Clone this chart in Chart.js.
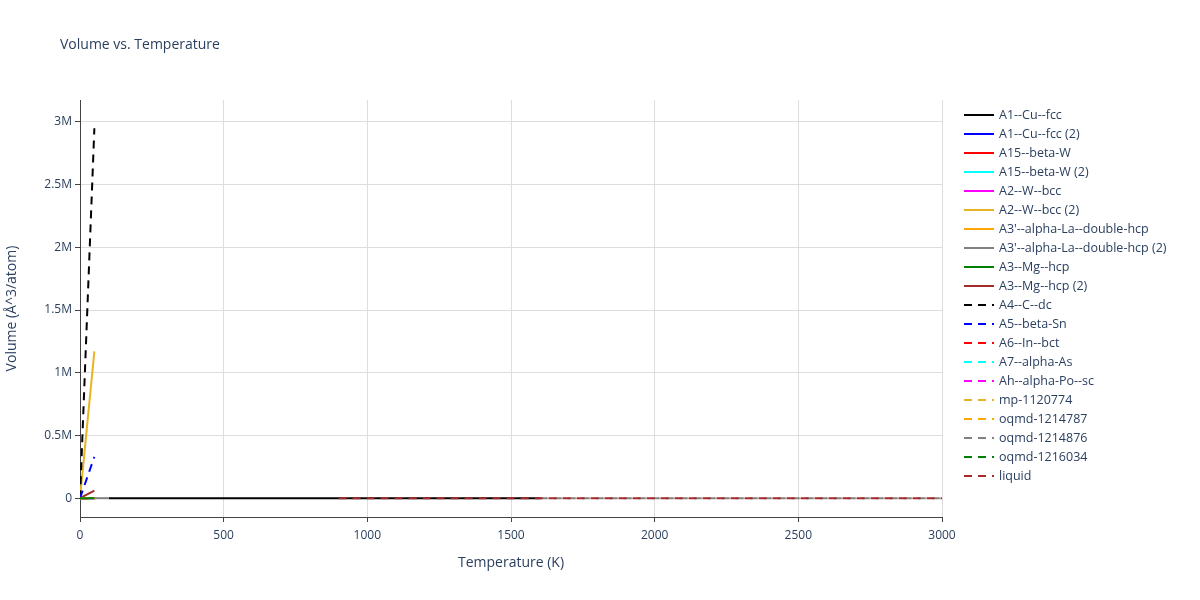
<!DOCTYPE html>
<html lang="en">
<head>
<meta charset="UTF-8" />
<title>Volume vs. Temperature</title>
<script src="https://cdn.jsdelivr.net/npm/chart.js"></script>
<style>
  body { margin: 0; background: #fff; font-family: 'Open Sans', sans-serif; }
  #wrap { width: 1200px; height: 600px; position: relative; }
</style>
</head>
<body>
<div id="wrap"><canvas id="c"></canvas></div>
<script>
const seriesNames = ['A1--Cu--fcc', 'A1--Cu--fcc (2)', 'A15--beta-W', 'A15--beta-W (2)', 'A2--W--bcc', 'A2--W--bcc (2)',
  "A3'--alpha-La--double-hcp", "A3'--alpha-La--double-hcp (2)", 'A3--Mg--hcp', 'A3--Mg--hcp (2)',
  'A4--C--dc', 'A5--beta-Sn', 'A6--In--bct', 'A7--alpha-As', 'Ah--alpha-Po--sc',
  'mp-1120774', 'oqmd-1214787', 'oqmd-1214876', 'oqmd-1216034', 'liquid'];
const seriesColors = ['#000000', '#0000ff', '#ff0000', '#00ffff', '#ff00ff', '#e6b422',
  '#ffa500', '#808080', '#008000', '#a52a2a',
  '#000000', '#0000ff', '#ff0000', '#00ffff', '#ff00ff', '#e6b422', '#ffa500', '#808080', '#008000', '#a52a2a'];
const seriesDashed = [false, false, false, false, false, false, false, false, false, false,
  true, true, true, true, true, true, true, true, true, true];
// [temperature K, volume Å^3/atom] pairs
const seriesPoints = [
  [[100, 0], [1600, 0]],
  [[0, 0], [50, 0]],
  [[0, 0], [50, 0]],
  [[0, 0], [50, 0]],
  [[0, 0], [50, 0]],
  [[0, 0], [50, 1170000]],
  [[0, 0], [50, 0]],
  [[0, 0], [100, 0]],
  [[0, 0], [50, 0]],
  [[0, 0], [50, 60000]],
  [[0, 0], [50, 2950000]],
  [[0, 0], [50, 330000]],
  [[0, 0], [50, 0]],
  [[0, 0], [50, 0]],
  [[0, 0], [50, 0]],
  [[0, 0], [50, 0]],
  [[0, 0], [50, 0]],
  [[1600, 0], [3000, 0]],
  [[0, 0], [50, 0]],
  [[900, 0], [3000, 0]]
];
const xTicks = [0, 500, 1000, 1500, 2000, 2500, 3000];
const yTicks = [0, 500000, 1000000, 1500000, 2000000, 2500000, 3000000];
const yTickLabels = ['0', '0.5M', '1M', '1.5M', '2M', '2.5M', '3M'];

const datasets = seriesNames.map((name, i) => ({
  label: name,
  data: seriesPoints[i].map(p => ({ x: p[0], y: p[1] })),
  borderColor: seriesColors[i],
  backgroundColor: seriesColors[i],
  borderWidth: 2,
  borderDash: seriesDashed[i] ? [8, 6] : [],
  pointRadius: 0,
  showLine: true,
  order: seriesNames.length - i
}));

const legendPlugin = {
  id: 'sideLegend',
  afterDraw(chart) {
    const ctx = chart.ctx;
    ctx.save();
    ctx.font = '12.5px "Open Sans", sans-serif';
    ctx.textBaseline = 'middle';
    seriesNames.forEach((name, i) => {
      const y = 115 + i * 19;
      ctx.strokeStyle = seriesColors[i];
      ctx.lineWidth = 2;
      ctx.setLineDash(seriesDashed[i] ? [8, 6] : []);
      ctx.beginPath(); ctx.moveTo(964, y); ctx.lineTo(994, y); ctx.stroke();
      ctx.setLineDash([]);
      ctx.fillStyle = '#2a3f5f';
      ctx.fillText(name, 999, y);
    });
    ctx.fillStyle = '#2a3f5f';
    ctx.font = '14px "Open Sans", sans-serif';
    ctx.fillText('Volume vs. Temperature', 60, 45);
    ctx.restore();
  }
};

new Chart(document.getElementById('c'), {
  type: 'scatter',
  data: { datasets },
  options: {
    responsive: true,
    maintainAspectRatio: false,
    animation: false,
    layout: { padding: { top: 100, right: 258, left: 0, bottom: 25 } },
    plugins: { legend: { display: false }, tooltip: { enabled: false } },
    scales: {
      x: {
        type: 'linear', min: 0, max: 3000,
        afterBuildTicks: ax => { ax.ticks = xTicks.map(v => ({ value: v })); },
        afterFit: ax => { ax.height = 58; },
        grid: { color: '#dddddd', drawTicks: true, tickLength: 5, tickColor: '#444' },
        border: { color: '#444' },
        ticks: { color: '#2a3f5f', font: { size: 12, family: 'Open Sans' }, maxRotation: 0,
          padding: 6, callback: v => String(v) },
        title: { display: true, text: 'Temperature (K)', color: '#2a3f5f', padding: { top: 12 },
          font: { size: 14, family: 'Open Sans' } }
      },
      y: {
        type: 'linear', min: -150000, max: 3175000,
        afterBuildTicks: ax => { ax.ticks = yTicks.map(v => ({ value: v })); },
        afterFit: ax => { ax.width = 80; },
        grid: { color: '#dddddd', tickLength: 5, tickColor: '#444' },
        border: { color: '#444' },
        ticks: { color: '#2a3f5f', font: { size: 12, family: 'Open Sans' },
          callback: v => yTickLabels[yTicks.indexOf(v)] },
        title: { display: true, text: 'Volume (Å^3/atom)', color: '#2a3f5f', padding: { bottom: 10 },
          font: { size: 14, family: 'Open Sans' } }
      }
    }
  },
  plugins: [legendPlugin]
});
</script>
</body>
</html>
